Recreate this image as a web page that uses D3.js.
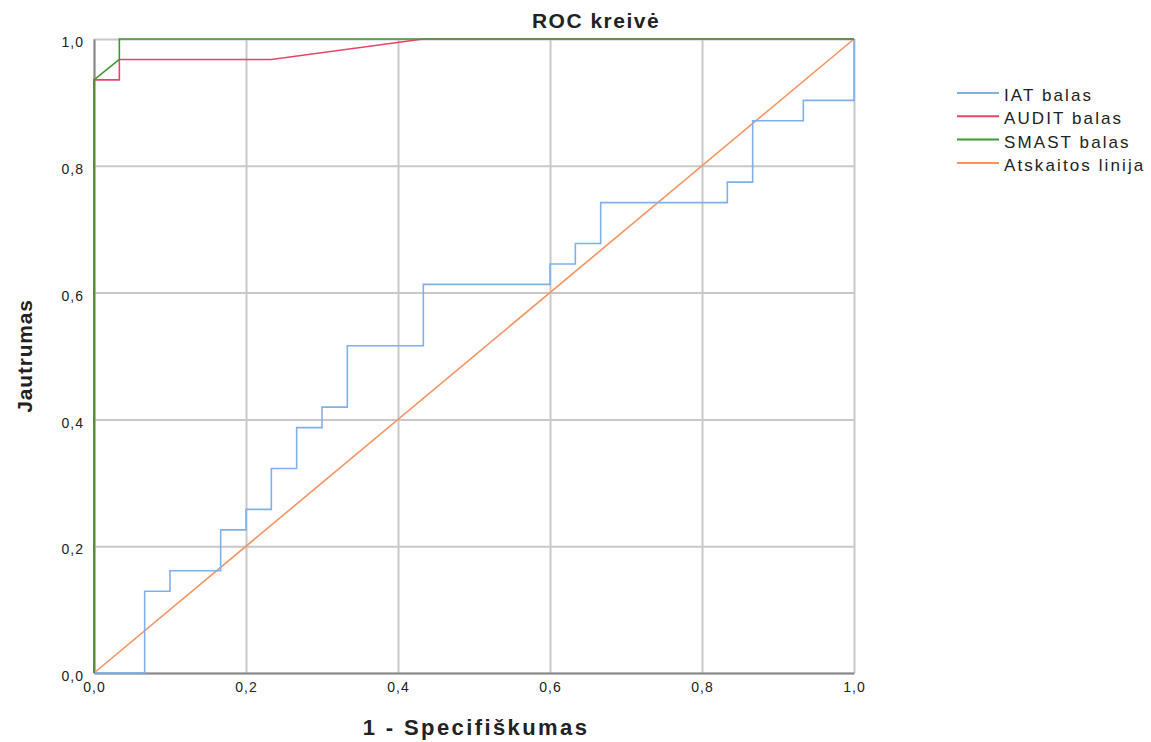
<!DOCTYPE html>
<html>
<head>
<meta charset="utf-8">
<script src="https://cdn.jsdelivr.net/npm/d3@7"></script>
<style>
  body { margin: 0; background: #fff; }
  text { font-family: "Liberation Sans", Arial, sans-serif; fill: #222; }
</style>
</head>
<body>
<div id="chart"></div>
<script>
// 1 - specificity (30 negatives) / sensitivity (31 positives)
const iatFpr = [0, 2/30, 2/30, 3/30, 3/30, 5/30, 5/30, 6/30, 6/30, 7/30, 7/30, 8/30, 8/30, 9/30, 9/30,
  10/30, 10/30, 13/30, 13/30, 18/30, 18/30, 19/30, 19/30, 20/30, 20/30, 25/30, 25/30, 26/30, 26/30,
  28/30, 28/30, 1, 1];
const iatTpr = [0, 0, 4/31, 4/31, 5/31, 5/31, 7/31, 7/31, 8/31, 8/31, 10/31, 10/31, 12/31, 12/31, 13/31,
  13/31, 16/31, 16/31, 19/31, 19/31, 20/31, 20/31, 21/31, 21/31, 23/31, 23/31, 24/31, 24/31, 27/31,
  27/31, 28/31, 28/31, 1];
const auditFpr = [0, 0, 1/30, 1/30, 7/30, 13/30, 1];
const auditTpr = [0, 29/31, 29/31, 30/31, 30/31, 1, 1];
const smastFpr = [0, 0, 1/30, 1/30, 1];
const smastTpr = [0, 29/31, 30/31, 1, 1];
const refFpr = [0, 1];
const refTpr = [0, 1];

const seriesNames = ['IAT balas', 'AUDIT balas', 'SMAST balas', 'Atskaitos linija'];
const seriesColors = ['#7eb0ec', '#e8446a', '#3e9a34', '#f59462'];
const ticks = [0, 0.2, 0.4, 0.6, 0.8, 1.0];

const width = 1151, height = 742;
const margin = { top: 39, left: 94, right: 297, bottom: 69 };
const plotW = width - margin.left - margin.right;
const plotH = height - margin.top - margin.bottom;

const svg = d3.select('#chart').append('svg')
  .attr('width', width)
  .attr('height', height);

const x = d3.scaleLinear().domain([0, 1]).range([0, plotW]);
const y = d3.scaleLinear().domain([0, 1]).range([plotH, 0]);
const fmt = d => d3.format('.1f')(d).replace('.', ',');

const g = svg.append('g')
  .attr('transform', `translate(${margin.left},${margin.top})`);

// grid
g.append('g')
  .attr('transform', `translate(0,${plotH})`)
  .call(d3.axisBottom(x).tickValues(ticks).tickSize(-plotH).tickFormat(''))
  .call(s => s.select('.domain').remove())
  .call(s => s.selectAll('line').attr('stroke', '#c8c8c8').attr('stroke-width', 2));
g.append('g')
  .call(d3.axisLeft(y).tickValues(ticks).tickSize(-plotW).tickFormat(''))
  .call(s => s.select('.domain').remove())
  .call(s => s.selectAll('line').attr('stroke', '#c8c8c8').attr('stroke-width', 2));

// axes
const xAxis = g.append('g')
  .attr('transform', `translate(0,${plotH})`)
  .call(d3.axisBottom(x).tickValues(ticks).tickSize(0).tickPadding(9).tickFormat(fmt));
xAxis.select('.domain').attr('stroke', '#8a8a8a').attr('stroke-width', 2);
xAxis.selectAll('text')
  .style('font-size', '14px').style('letter-spacing', '1px')
  .attr('fill', '#222');

const yAxis = g.append('g')
  .call(d3.axisLeft(y).tickValues(ticks).tickSize(0).tickPadding(10).tickFormat(fmt));
yAxis.select('.domain').attr('stroke', '#8a8a8a').attr('stroke-width', 2);
yAxis.selectAll('text')
  .style('font-size', '14px').style('letter-spacing', '1px')
  .attr('dy', '0.55em')
  .attr('fill', '#222');

// curves
const line = d3.line().x(d => x(d[0])).y(d => y(d[1]));
const seriesData = [
  d3.zip(refFpr, refTpr),
  d3.zip(iatFpr, iatTpr),
  d3.zip(auditFpr, auditTpr),
  d3.zip(smastFpr, smastTpr)
];
const seriesIdx = [3, 0, 1, 2];
seriesData.forEach((pts, i) => {
  g.append('path')
    .datum(pts)
    .attr('fill', 'none')
    .attr('stroke', seriesColors[seriesIdx[i]])
    .attr('stroke-width', 1.6)
    .attr('d', line);
});

// title and axis labels
svg.append('text')
  .attr('x', 596).attr('y', 28)
  .attr('text-anchor', 'middle')
  .style('font-size', '21px').style('font-weight', 'bold').style('letter-spacing', '1.5px')
  .text('ROC kreivė');

svg.append('text')
  .attr('x', margin.left + plotW / 2 + 2).attr('y', 735)
  .attr('text-anchor', 'middle')
  .style('font-size', '22px').style('font-weight', 'bold').style('letter-spacing', '2.4px')
  .text('1 - Specifiškumas');

svg.append('text')
  .attr('transform', `translate(32,${margin.top + plotH / 2}) rotate(-90)`)
  .attr('text-anchor', 'middle')
  .style('font-size', '21px').style('font-weight', 'bold').style('letter-spacing', '0.8px')
  .text('Jautrumas');

// legend
const legend = svg.append('g').attr('transform', 'translate(957,93)');
seriesNames.forEach((name, i) => {
  const row = legend.append('g').attr('transform', `translate(0,${i * 23.3})`);
  row.append('line')
    .attr('x1', 0).attr('x2', 42)
    .attr('stroke', seriesColors[i]).attr('stroke-width', 2);
  row.append('text')
    .attr('x', 47).attr('y', 8)
    .style('font-size', '17px').style('letter-spacing', '2.1px')
    .text(name);
});
</script>
</body>
</html>
